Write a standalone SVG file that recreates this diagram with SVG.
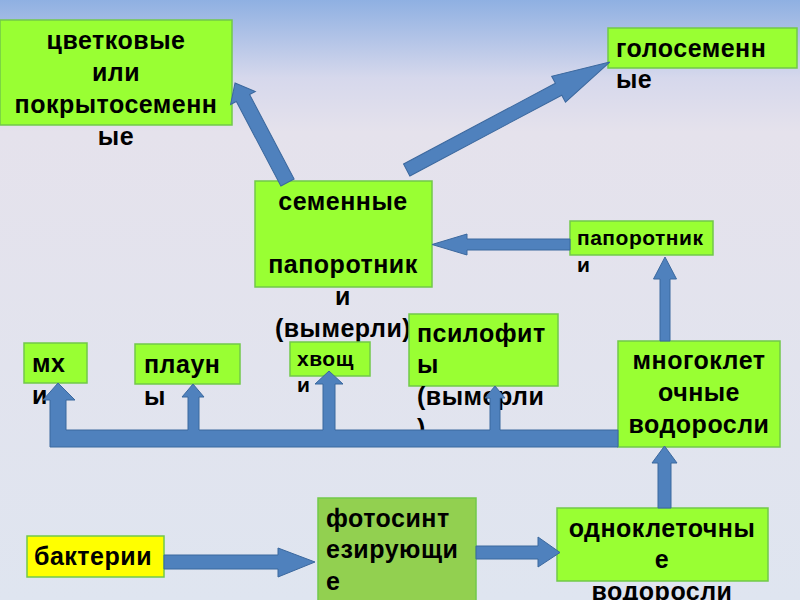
<svg xmlns="http://www.w3.org/2000/svg" width="800" height="600" viewBox="0 0 800 600">
<defs>
<linearGradient id="bg" x1="0" y1="0" x2="0" y2="1">
<stop offset="0" stop-color="#8fb0e2"/>
<stop offset="0.13" stop-color="#d6d8ec"/>
<stop offset="0.22" stop-color="#e5e2ec"/>
<stop offset="1" stop-color="#dfe5f0"/>
</linearGradient>
<style>
.box{fill:#99ff33;stroke:#72c94a;stroke-width:1.5}
.box2{fill:#92d050;stroke:#72c94a;stroke-width:1.5}
.boxy{fill:#ffff00;stroke:#72c94a;stroke-width:1.5}
text{font-family:"Liberation Sans",Arial,sans-serif;font-weight:bold;fill:#000;font-size:25px;letter-spacing:0.5px}
.c{text-anchor:middle}
.s{font-size:21px}
.arr{fill:#4f81bd;stroke:#3b689e;stroke-width:1;stroke-linejoin:miter}
</style>
</defs>
<rect x="0" y="0" width="800" height="600" fill="url(#bg)"/>

<g id="tsvetkovye">
<rect class="box" x="0" y="20" width="232" height="105"/>
<text class="c" x="116" y="49">цветковые</text>
<text class="c" x="116" y="81">или</text>
<text class="c" x="116" y="113">покрытосеменн</text>
<text class="c" x="116" y="145">ые</text>
</g>

<g id="golosemennye">
<rect class="box" x="608" y="28" width="189" height="40"/>
<text x="616" y="57">голосеменн</text>
<text x="616" y="88">ые</text>
</g>

<g id="semennye-paporotniki">
<rect class="box" x="255" y="181" width="177" height="106"/>
<text class="c" x="343" y="210">семенные</text>
<text class="c" x="343" y="273">папоротник</text>
<text class="c" x="343" y="305">и</text>
<text class="c" x="343" y="337">(вымерли)</text>
</g>

<g id="paporotniki">
<rect class="box" x="570" y="221" width="143" height="34"/>
<text class="s" x="577" y="245">папоротник</text>
<text class="s" x="577" y="272">и</text>
</g>

<g id="mnogokletochnye">
<rect class="box" x="618" y="341" width="162" height="106"/>
<text class="c" x="699" y="369">многоклет</text>
<text class="c" x="699" y="401">очные</text>
<text class="c" x="699" y="433">водоросли</text>
</g>

<g id="mkhi">
<rect class="box" x="24" y="343" width="63" height="40"/>
<text x="32" y="372">мх</text>
<text x="32" y="404">и</text>
</g>

<g id="plauny">
<rect class="box" x="135" y="344" width="105" height="40"/>
<text x="144" y="373">плаун</text>
<text x="144" y="405">ы</text>
</g>

<g id="khvoshchi">
<rect class="box" x="290" y="342" width="80" height="34"/>
<text class="s" x="297" y="366">хвощ</text>
<text class="s" x="297" y="392">и</text>
</g>

<g id="psilofity">
<rect class="box" x="409" y="314" width="149" height="72"/>
<text x="417" y="342">псилофит</text>
<text x="417" y="373">ы</text>
<text x="417" y="405">(вымерли</text>
<text x="417" y="437">)</text>
</g>

<g id="bakterii">
<rect class="boxy" x="27" y="536" width="137" height="41"/>
<text x="34" y="565">бактерии</text>
</g>

<g id="fotosintez">
<rect class="box2" x="318" y="498" width="158" height="110"/>
<text x="326" y="527">фотосинт</text>
<text x="326" y="558">езирующи</text>
<text x="326" y="590">е</text>
</g>

<g id="odnokletochnye">
<rect class="box" x="557" y="508" width="211" height="73"/>
<text class="c" x="662" y="537">одноклеточны</text>
<text class="c" x="662" y="568">е</text>
<text class="c" x="662" y="600">водоросли</text>
</g>

<g id="connectors">
<polygon class="arr" transform="translate(287.5,182.5) rotate(-117.8)" points="0,-7.5 95.5,-7.5 95.5,-14 112.5,0 95.5,14 95.5,7.5 0,7.5"/>
<polygon class="arr" transform="translate(406.7,170) rotate(-28)" points="0,-6.75 172,-6.75 172,-14.7 230,0 172,14.7 172,6.75 0,6.75"/>
<polygon class="arr" points="570,239 467,239 467,234 432,244.5 467,255 467,250 570,250"/>
<polygon class="arr" points="660,341 660,279 653.5,279 665,257 676.5,279 670,279 670,341"/>
<polygon class="arr" points="658,508 658,463 652,463 664.5,446 677,463 671,463 671,508"/>
<polygon class="arr" points="618,447 50,447 50,400 43,400 58,383 75,400 66,400 66,430 188,430 188,397 182,397 193,384 204,397 199,397 199,430 323,430 323,384 315,384 329,371 343,384 335,384 335,430 490,430 490,398 485,398 495,386 505,398 500,398 500,430 618,430"/>
<polygon class="arr" points="164,555 278,555 278,548 315,562 278,577 278,569 164,569"/>
<polygon class="arr" points="476,546 538,546 538,537 560,552.5 538,567 538,559 476,559"/>
</g>
</svg>
